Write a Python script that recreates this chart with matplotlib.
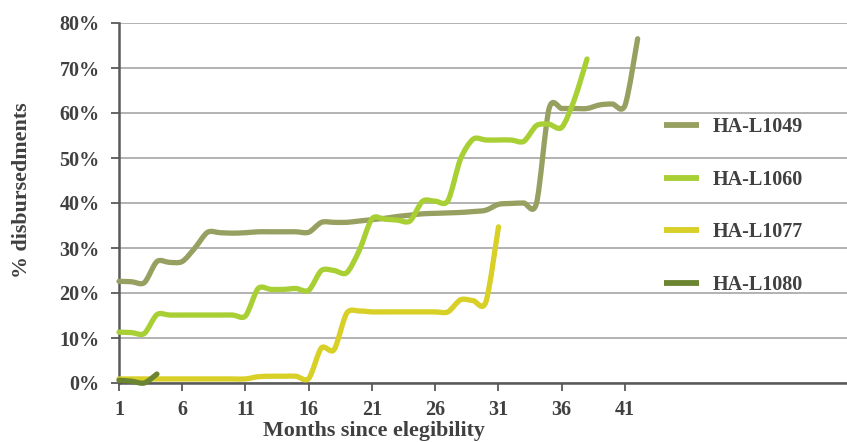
import numpy as np
import matplotlib
matplotlib.use("Agg")
import matplotlib.pyplot as plt
from matplotlib.path import Path
from matplotlib.patches import PathPatch
from matplotlib.lines import Line2D

# ---- data (percent disbursed by month since eligibility) ----
series_names = ["HA-L1049", "HA-L1060", "HA-L1077", "HA-L1080"]

ha_l1049 = [22.6, 22.5, 22.3, 27.0, 26.8, 27.0, 30.0, 33.5, 33.4, 33.3, 33.4, 33.6,
            33.6, 33.6, 33.6, 33.5, 35.7, 35.7, 35.7, 36.0, 36.3, 36.6, 37.0, 37.3,
            37.6, 37.7, 37.8, 37.9, 38.1, 38.4, 39.7, 39.9, 40.0, 39.9, 61.0, 61.0,
            61.0, 61.0, 61.8, 62.0, 61.7, 76.5]
ha_l1060 = [11.3, 11.2, 11.0, 15.2, 15.1, 15.1, 15.1, 15.1, 15.1, 15.1, 14.9, 21.0,
            20.8, 20.8, 21.0, 20.6, 25.0, 25.0, 24.5, 29.5, 36.5, 36.4, 36.2, 36.0,
            40.4, 40.4, 40.5, 49.8, 54.2, 54.0, 54.0, 54.0, 53.7, 57.2, 57.5, 56.8,
            63.0, 72.0]
ha_l1077 = [0.9, 0.9, 0.9, 0.9, 0.9, 0.9, 0.9, 0.9, 0.9, 0.9, 0.9, 1.4,
            1.5, 1.5, 1.5, 1.0, 7.8, 7.4, 15.5, 16.0, 15.8, 15.8, 15.8, 15.8,
            15.8, 15.8, 15.8, 18.5, 18.3, 18.0, 34.7]
ha_l1080 = [0.6, 0.4, 0.0, 2.0]

series_values = [ha_l1049, ha_l1060, ha_l1077, ha_l1080]
series_colors = ["#97a061", "#a8cf34", "#d8cf27", "#6c8531"]

y_ticks = [0, 10, 20, 30, 40, 50, 60, 70, 80]
y_tick_labels = ["0%", "10%", "20%", "30%", "40%", "50%", "60%", "70%", "80%"]
x_ticks = [1, 6, 11, 16, 21, 26, 31, 36, 41]
x_tick_labels = ["1", "6", "11", "16", "21", "26", "31", "36", "41"]

TEXT = "#404040"
AXC = "#595959"
FONT = "Liberation Serif"


def smooth_path(x, y, k=7.0):
    """Catmull-Rom style Bezier path through the data points (Excel-like smoothing)."""
    pts = np.column_stack([x, y]).astype(float)
    n = len(pts)
    verts = [pts[0]]
    codes = [Path.MOVETO]
    for i in range(n - 1):
        p0 = pts[i - 1] if i > 0 else pts[i]
        p1 = pts[i]
        p2 = pts[i + 1]
        p3 = pts[i + 2] if i + 2 < n else pts[i + 1]
        c1 = p1 + (p2 - p0) / k
        c2 = p2 - (p3 - p1) / k
        verts += [c1, c2, p2]
        codes += [Path.CURVE4] * 3
    return Path(verts, codes)


fig = plt.figure(figsize=(8.47, 4.42), dpi=100)
ax = fig.add_axes([119 / 847, 1 - 383 / 442, 1 - 119 / 847, (383 - 23) / 442])

for name, vals, col in zip(series_names, series_values, series_colors):
    months = np.arange(1, len(vals) + 1)
    patch = PathPatch(smooth_path(months, vals), facecolor="none", edgecolor=col,
                      lw=3.8, capstyle="round", joinstyle="round",
                      transform=ax.transData, zorder=3, clip_on=False)
    ax.add_patch(patch)

ax.set_xlim(1, 58.55)
ax.set_ylim(0, 80)

ax.set_yticks(y_ticks)
ax.set_yticklabels(y_tick_labels)
ax.set_xticks(x_ticks)
ax.set_xticklabels(x_tick_labels)

ax.grid(axis="y", color="#a6a6a6", lw=1.2, zorder=0)
ax.set_axisbelow(True)
for s in ["top", "right"]:
    ax.spines[s].set_visible(False)
for s in ["left", "bottom"]:
    ax.spines[s].set_color(AXC)
    ax.spines[s].set_linewidth(1.8)
    ax.spines[s].set_zorder(2)

ax.tick_params(axis="y", direction="out", length=6, width=1.3, color=AXC, pad=8)
ax.tick_params(axis="x", direction="out", length=6, width=1.3, color=AXC, pad=6)
for lab in ax.get_yticklabels() + ax.get_xticklabels():
    lab.set_fontfamily(FONT)
    lab.set_fontweight("bold")
    lab.set_fontsize(14.5)
    lab.set_color(TEXT)

ax.set_xlabel("Months since elegibility", fontfamily=FONT, fontweight="bold",
              fontsize=15.8, color=TEXT)
ax.xaxis.set_label_coords((374 - 119) / (847 - 119), -0.105)
ax.set_ylabel("% disbursedments", fontfamily=FONT, fontweight="bold",
              fontsize=15.8, color=TEXT)
ax.yaxis.set_label_coords(-0.119, 0.535)

handles = [Line2D([], [], color=c, lw=4.2, solid_capstyle="butt") for c in series_colors]
leg = ax.legend(handles, series_names, loc="upper left",
                bbox_to_anchor=(654 / 847, 1 - 107 / 442), bbox_transform=fig.transFigure,
                frameon=False, handlelength=1.75, handletextpad=0.65,
                labelspacing=1.62, borderpad=0,
                prop={"family": FONT, "weight": "bold", "size": 14.5})
for t in leg.get_texts():
    t.set_color(TEXT)

fig.savefig("out.png", dpi=100)
